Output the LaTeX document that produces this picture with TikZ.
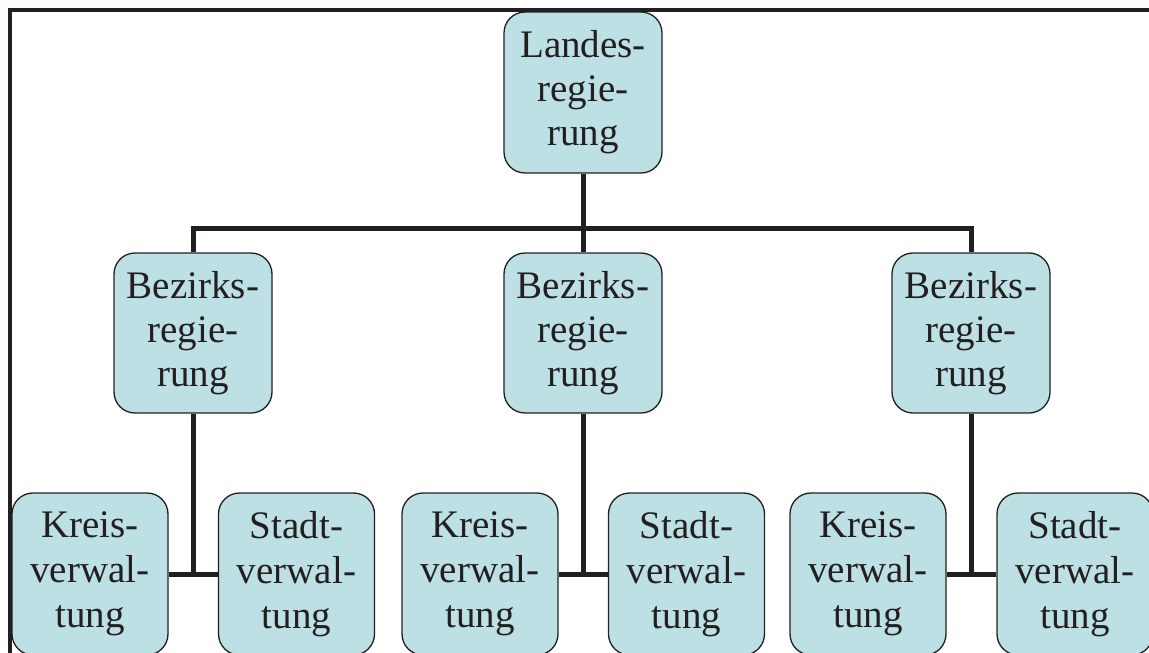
\documentclass[tikz,border=0pt]{standalone}
\usepackage{fontspec}
\setmainfont{Liberation Serif}
\definecolor{ink}{HTML}{231F20}
\definecolor{boxfill}{HTML}{BCE0E3}
\begin{document}
\begin{tikzpicture}[x=1pt,y=-1pt,
  unit/.style={draw=ink, line width=1.3pt, fill=boxfill, rounded corners=21pt,
    text=ink, align=center, inner sep=0pt,
    font=\fontsize{39}{44}\selectfont},
  topunit/.style={unit, minimum width=158pt, minimum height=161pt, text width=158pt},
  midunit/.style={unit, minimum width=158pt, minimum height=160pt, text width=158pt},
  lowunit/.style={unit, minimum width=156pt, minimum height=162pt, text width=156pt,
    font=\fontsize{39}{45}\selectfont},
  link/.style={draw=ink, line width=5pt},
  frame/.style={draw=ink, line width=4pt}]
\useasboundingbox (0,0) rectangle (1149,653);
\clip (0,0) rectangle (1149,653);
% outer frame edges
\draw[frame] (8,10) -- (1149,10);
\draw[frame] (10,8) -- (10,653);
% junction points of the connectors
\coordinate (bus) at (583,228);
\coordinate (fork1) at (193,574);
\coordinate (fork2) at (583,574);
\coordinate (fork3) at (971,574);
% state level
\node[topunit] (L) at (583,92.5) {Landes-\\regie-\\rung};
% district level
\node[midunit] (B1) at (193,333) {Bezirks-\\regie-\\rung};
\node[midunit] (B2) at (583,333) {Bezirks-\\regie-\\rung};
\node[midunit] (B3) at (971,333) {Bezirks-\\regie-\\rung};
% local level
\node[lowunit] (K1) at (90,574) {Kreis-\\verwal-\\tung};
\node[lowunit] (S1) at (296.5,574) {Stadt-\\verwal-\\tung};
\node[lowunit] (K2) at (480,574) {Kreis-\\verwal-\\tung};
\node[lowunit] (S2) at (686.5,574) {Stadt-\\verwal-\\tung};
\node[lowunit] (K3) at (868,574) {Kreis-\\verwal-\\tung};
\node[lowunit] (S3) at (1075,574) {Stadt-\\verwal-\\tung};
% links between levels
\draw[link] (L.south) -- (B2.north);
\draw[link] (B1.north) -- (B1.north |- bus) -- (B3.north |- bus) -- (B3.north);
\draw[link] (B1.south) -- (fork1);
\draw[link] (B2.south) -- (fork2);
\draw[link] (B3.south) -- (fork3);
\draw[link] (K1.east) -- (S1.west);
\draw[link] (K2.east) -- (S2.west);
\draw[link] (K3.east) -- (S3.west);
\end{tikzpicture}
\end{document}
